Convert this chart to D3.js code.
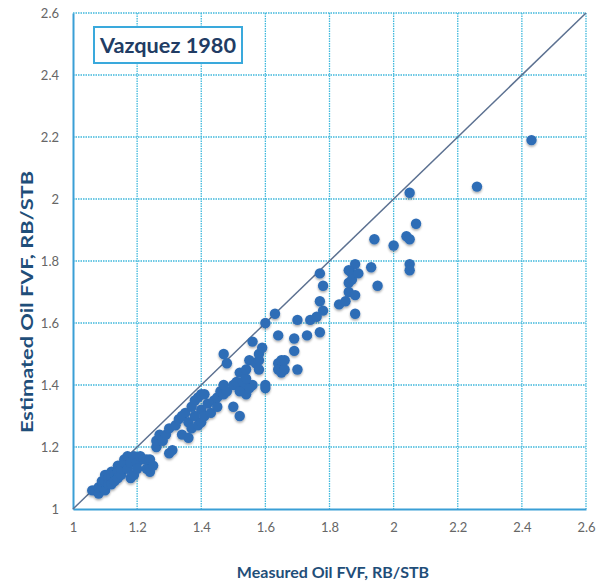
<!DOCTYPE html>
<html>
<head>
<meta charset="utf-8">
<script src="https://cdn.jsdelivr.net/npm/d3@7"></script>
<style>
  body { margin: 0; background: #fff; }
  text { font-family: Lato, "Open Sans", sans-serif; }
</style>
</head>
<body>
<div id="chart"></div>
<script>
// measured vs estimated oil FVF (RB/STB)
const measured = [
  1.06, 1.07, 1.08, 1.08, 1.09, 1.09, 1.10, 1.10, 1.10, 1.11, 1.11, 1.11, 1.12, 1.12, 1.12,
  1.13, 1.13, 1.14, 1.14, 1.14, 1.15, 1.15, 1.16, 1.16, 1.17, 1.17, 1.18, 1.18, 1.19, 1.19,
  1.20, 1.20, 1.21, 1.22, 1.23, 1.23, 1.24, 1.24, 1.25, 1.26,
  1.26, 1.27, 1.28, 1.29, 1.30, 1.30, 1.31, 1.32, 1.33, 1.34, 1.34, 1.35, 1.36, 1.36, 1.37,
  1.37, 1.38, 1.38, 1.39, 1.39, 1.40, 1.40, 1.40, 1.41, 1.41, 1.42, 1.43, 1.44, 1.45, 1.45,
  1.46, 1.47, 1.47, 1.48, 1.50, 1.50, 1.52, 1.53, 1.54, 1.56, 1.60, 1.60, 1.52, 1.51, 1.53, 1.55,
  1.47, 1.48, 1.52, 1.54, 1.54, 1.55, 1.57, 1.58, 1.58, 1.58, 1.59, 1.56, 1.60, 1.63, 1.64,
  1.64, 1.64, 1.65, 1.65, 1.66, 1.69, 1.69, 1.70, 1.73, 1.77, 1.70, 1.74, 1.76, 1.78, 1.77,
  1.78, 1.77, 1.66,
  1.83, 1.85, 1.86, 1.86, 1.87, 1.87, 1.88, 1.86, 1.89, 1.93, 1.95, 1.88, 1.94, 2.00, 2.04,
  2.05, 2.05, 2.05, 2.07, 2.05, 2.26, 2.43, 1.88
];
const estimated = [
  1.06, 1.06, 1.05, 1.07, 1.07, 1.09, 1.06, 1.09, 1.11, 1.11, 1.08, 1.10, 1.12, 1.10, 1.08,
  1.11, 1.09, 1.14, 1.12, 1.10, 1.11, 1.13, 1.16, 1.15, 1.13, 1.17, 1.10, 1.15, 1.11, 1.17,
  1.15, 1.13, 1.17, 1.16, 1.13, 1.16, 1.16, 1.12, 1.14, 1.20,
  1.22, 1.24, 1.22, 1.24, 1.26, 1.18, 1.19, 1.27, 1.29, 1.24, 1.30, 1.31, 1.23, 1.28, 1.33,
  1.26, 1.30, 1.35, 1.27, 1.36, 1.37, 1.28, 1.32, 1.30, 1.37, 1.34, 1.31, 1.35, 1.33, 1.36,
  1.38, 1.40, 1.37, 1.38, 1.40, 1.33, 1.30, 1.40, 1.37, 1.40, 1.40, 1.39, 1.38, 1.41, 1.41, 1.39,
  1.50, 1.47, 1.44, 1.42, 1.45, 1.48, 1.47, 1.48, 1.45, 1.50, 1.52, 1.54, 1.60, 1.63, 1.56,
  1.47, 1.45, 1.44, 1.48, 1.45, 1.55, 1.51, 1.45, 1.56, 1.57, 1.61, 1.61, 1.62, 1.64, 1.67,
  1.72, 1.76, 1.48,
  1.66, 1.67, 1.70, 1.73, 1.74, 1.76, 1.79, 1.77, 1.76, 1.78, 1.72, 1.63, 1.87, 1.85, 1.88,
  1.87, 1.79, 1.77, 1.92, 2.02, 2.04, 2.19, 1.69
];
const ticks = [1, 1.2, 1.4, 1.6, 1.8, 2, 2.2, 2.4, 2.6];

const width = 608, height = 586;
const plot = {left: 73, right: 586, top: 13, bottom: 509};

const svg = d3.select("#chart").append("svg")
  .attr("width", width)
  .attr("height", height);

const defs = svg.append("defs");
const shadow = defs.append("filter").attr("id", "shadow")
  .attr("x", "-50%").attr("y", "-50%").attr("width", "200%").attr("height", "200%");
shadow.append("feDropShadow")
  .attr("dx", 0).attr("dy", 1.5).attr("stdDeviation", 1.2)
  .attr("flood-color", "#000").attr("flood-opacity", 0.35);

const x = d3.scaleLinear().domain([1, 2.6]).range([plot.left, plot.right]);
const y = d3.scaleLinear().domain([1, 2.6]).range([plot.bottom, plot.top]);

const gridColor = "#3fb8dc";

// dotted grid
svg.append("g")
  .selectAll("line")
  .data(ticks.slice(1))
  .join("line")
  .attr("x1", d => x(d)).attr("x2", d => x(d))
  .attr("y1", plot.top).attr("y2", plot.bottom)
  .attr("stroke", gridColor).attr("stroke-width", 1.3)
  .attr("stroke-dasharray", "1.5,1");

svg.append("g")
  .selectAll("line")
  .data(ticks.slice(1))
  .join("line")
  .attr("x1", plot.left).attr("x2", plot.right)
  .attr("y1", d => y(d)).attr("y2", d => y(d))
  .attr("stroke", gridColor).attr("stroke-width", 1.3)
  .attr("stroke-dasharray", "1.5,1");

// axes
const xAxis = svg.append("g")
  .attr("transform", `translate(0,${plot.bottom})`)
  .call(d3.axisBottom(x).tickValues(ticks).tickFormat(d3.format("")).tickSize(0).tickPadding(14));
const yAxis = svg.append("g")
  .attr("transform", `translate(${plot.left},0)`)
  .call(d3.axisLeft(y).tickValues(ticks).tickFormat(d3.format("")).tickSize(0).tickPadding(14));

[xAxis, yAxis].forEach(a => {
  a.select(".domain").attr("stroke", "#3a9fd6").attr("stroke-width", 2);
  a.selectAll("text").attr("fill", "#666").style("font-size", "13px")
    .style("font-family", "Lato, 'Open Sans', sans-serif");
});

// 1:1 line
svg.append("line")
  .attr("x1", x(1)).attr("y1", y(1))
  .attr("x2", x(2.6)).attr("y2", y(2.6))
  .attr("stroke", "#5c7191").attr("stroke-width", 1.5);

// points
svg.append("g")
  .attr("filter", "url(#shadow)")
  .selectAll("circle")
  .data(measured.map((m, i) => ({m: m, e: estimated[i]})))
  .join("circle")
  .attr("cx", d => x(d.m))
  .attr("cy", d => y(d.e))
  .attr("r", 5.2)
  .attr("fill", "#2e6db6");

// title box
svg.append("rect")
  .attr("x", 94).attr("y", 27).attr("width", 148).attr("height", 36)
  .attr("fill", "#fff").attr("stroke", "#3aa9dc").attr("stroke-width", 2);
svg.append("text")
  .attr("x", 168).attr("y", 53)
  .attr("text-anchor", "middle")
  .style("font-size", "21px").style("font-weight", "bold")
  .attr("fill", "#213c64")
  .attr("textLength", 136).attr("lengthAdjust", "spacingAndGlyphs")
  .text("Vazquez 1980");

// axis titles
svg.append("text")
  .attr("x", 333).attr("y", 578)
  .attr("text-anchor", "middle")
  .style("font-size", "16px").style("font-weight", "bold")
  .attr("fill", "#1f4e79")
  .text("Measured Oil FVF, RB/STB");

svg.append("text")
  .attr("transform", "translate(33,302) rotate(-90)")
  .attr("text-anchor", "middle")
  .style("font-size", "17px").style("font-weight", "bold")
  .attr("fill", "#1f4e79")
  .attr("textLength", 262).attr("lengthAdjust", "spacingAndGlyphs")
  .text("Estimated Oil FVF, RB/STB");
</script>
</body>
</html>
